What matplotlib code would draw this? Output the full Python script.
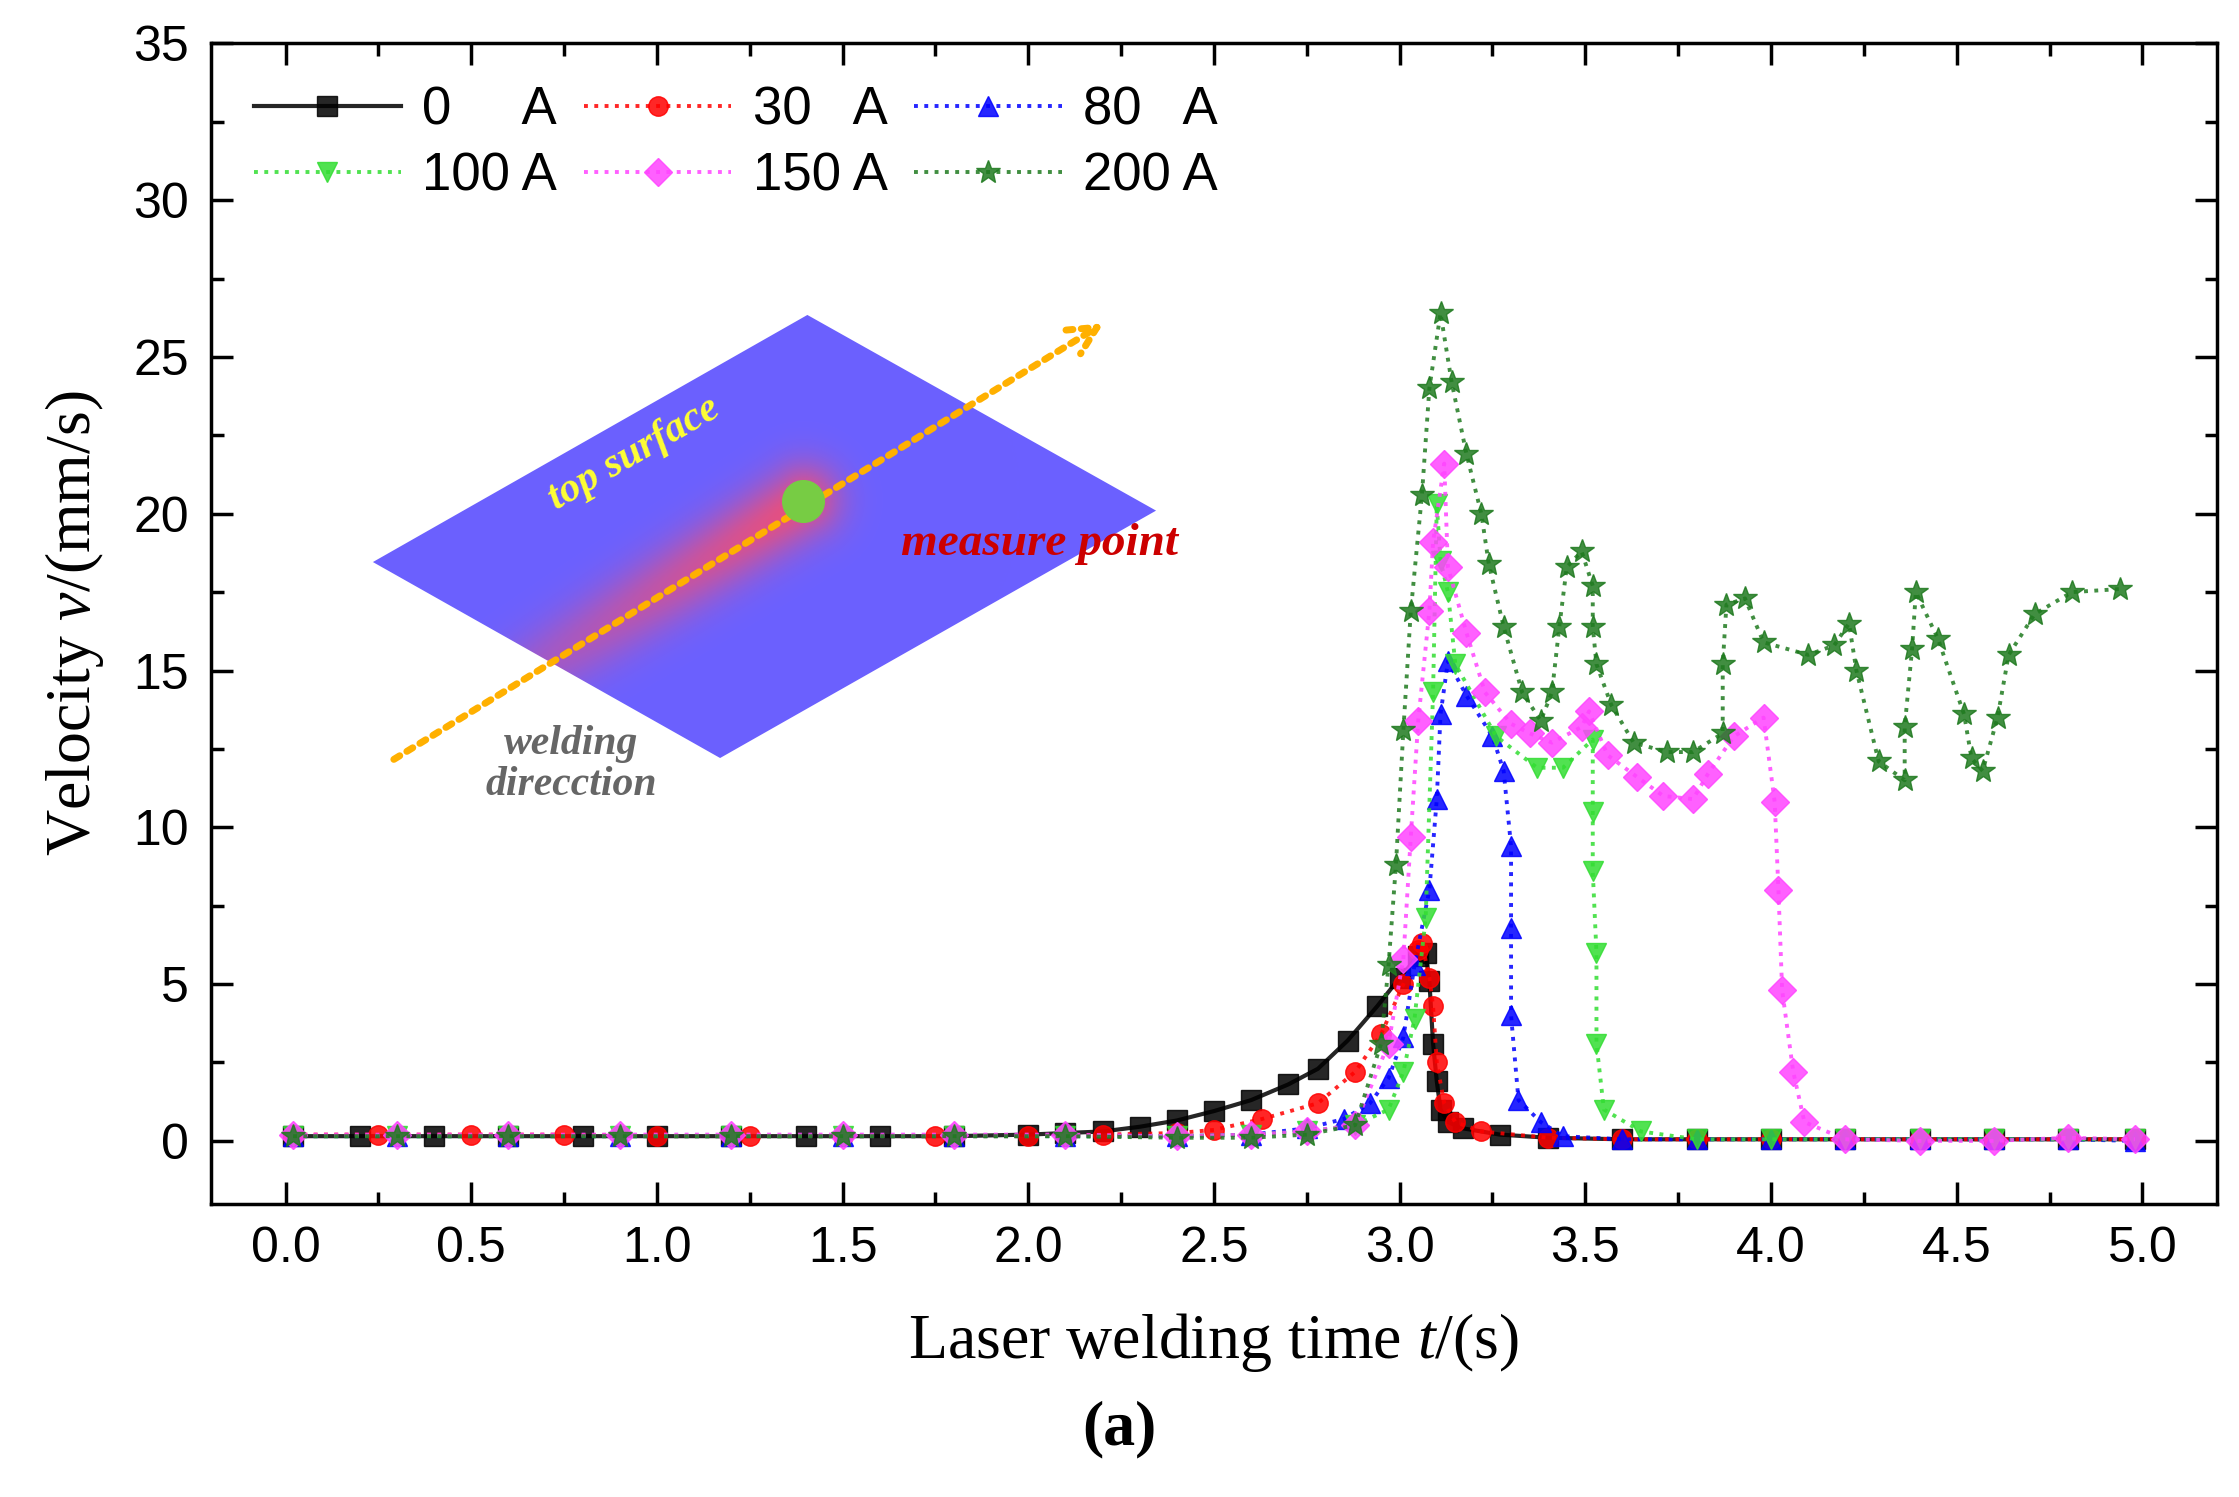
import numpy as np
import matplotlib
matplotlib.use('Agg')
import matplotlib.pyplot as plt
from matplotlib.path import Path
from matplotlib.patches import PathPatch
from matplotlib.ticker import MultipleLocator

plt.rcParams['font.family'] = 'Liberation Sans'
plt.rcParams['mathtext.fontset'] = 'custom'
plt.rcParams['mathtext.it'] = 'Liberation Serif:italic'
plt.rcParams['mathtext.rm'] = 'Liberation Serif'

# ---- data ----
t_0A = [0.02, 0.2, 0.4, 0.6, 0.8, 1.0, 1.2, 1.4, 1.6, 1.8, 2.0, 2.1, 2.2, 2.3, 2.4, 2.5, 2.6, 2.7,
        2.78, 2.86, 2.94, 3.0, 3.05, 3.07, 3.08, 3.09, 3.10, 3.11, 3.13, 3.17, 3.27, 3.4, 3.6, 3.8,
        4.0, 4.2, 4.4, 4.6, 4.8, 4.98]
v_0A = [0.15, 0.15, 0.15, 0.15, 0.15, 0.15, 0.15, 0.15, 0.15, 0.15, 0.2, 0.25, 0.3, 0.45, 0.65, 0.95,
        1.3, 1.8, 2.3, 3.2, 4.3, 5.2, 5.9, 6.0, 5.1, 3.1, 1.9, 1.0, 0.6, 0.4, 0.2, 0.1, 0.05, 0.05,
        0.05, 0.05, 0.05, 0.05, 0.05, 0.05]
t_30A = [0.02, 0.25, 0.5, 0.75, 1.0, 1.25, 1.5, 1.75, 2.0, 2.2, 2.4, 2.5, 2.63, 2.78, 2.88, 2.95,
         3.01, 3.05, 3.06, 3.08, 3.09, 3.10, 3.12, 3.15, 3.22, 3.4, 3.6, 3.8, 4.0, 4.2, 4.4, 4.6,
         4.8, 4.98]
v_30A = [0.2, 0.2, 0.2, 0.2, 0.15, 0.15, 0.15, 0.15, 0.15, 0.2, 0.25, 0.35, 0.7, 1.2, 2.2, 3.4,
         5.0, 6.1, 6.3, 5.2, 4.3, 2.5, 1.2, 0.6, 0.3, 0.1, 0.05, 0.05, 0.05, 0.05, 0.05, 0.05,
         0.05, 0.05]
t_80A = [0.02, 0.3, 0.6, 0.9, 1.2, 1.5, 1.8, 2.1, 2.4, 2.6, 2.75, 2.85, 2.92, 2.97, 3.01, 3.04,
         3.08, 3.10, 3.11, 3.13, 3.18, 3.25, 3.28, 3.30, 3.30, 3.30, 3.32, 3.38, 3.44, 3.6, 3.8,
         4.0, 4.2, 4.4, 4.6, 4.8, 4.98]
v_80A = [0.15, 0.15, 0.15, 0.15, 0.15, 0.15, 0.15, 0.15, 0.15, 0.2, 0.4, 0.7, 1.2, 2.0, 3.3, 5.6,
         8.0, 10.9, 13.6, 15.3, 14.2, 12.9, 11.8, 9.4, 6.8, 4.0, 1.3, 0.6, 0.15, 0.05, 0.05, 0.05,
         0.05, 0.05, 0.05, 0.05, 0.0]
t_100A = [0.02, 0.3, 0.6, 0.9, 1.2, 1.5, 1.8, 2.1, 2.4, 2.6, 2.75, 2.88, 2.97, 3.01, 3.04, 3.07,
          3.09, 3.10, 3.11, 3.13, 3.15, 3.26, 3.37, 3.44, 3.52, 3.52, 3.52, 3.53, 3.53, 3.55, 3.65,
          3.8, 4.0, 4.2, 4.4, 4.6, 4.8, 4.98]
v_100A = [0.15, 0.15, 0.15, 0.15, 0.15, 0.15, 0.15, 0.15, 0.15, 0.2, 0.3, 0.5, 1.0, 2.2, 3.9, 7.1,
          14.3, 20.3, 18.5, 17.5, 15.2, 12.9, 11.9, 11.9, 12.8, 10.5, 8.6, 6.0, 3.1, 1.0, 0.3,
          0.05, 0.05, 0.05, 0.05, 0.05, 0.05, 0.05]
t_150A = [0.02, 0.3, 0.6, 0.9, 1.2, 1.5, 1.8, 2.1, 2.4, 2.6, 2.75, 2.88, 2.97, 3.01, 3.03, 3.05,
          3.08, 3.09, 3.12, 3.13, 3.18, 3.23, 3.30, 3.35, 3.41, 3.49, 3.51, 3.56, 3.64, 3.71, 3.79,
          3.83, 3.90, 3.98, 4.01, 4.02, 4.03, 4.06, 4.09, 4.2, 4.4, 4.6, 4.8, 4.98]
v_150A = [0.2, 0.2, 0.2, 0.2, 0.2, 0.2, 0.2, 0.2, 0.15, 0.2, 0.3, 0.5, 3.1, 5.8, 9.7, 13.4, 16.9,
          19.1, 21.6, 18.3, 16.2, 14.3, 13.3, 13.0, 12.7, 13.2, 13.7, 12.3, 11.6, 11.0, 10.9, 11.7,
          12.9, 13.5, 10.8, 8.0, 4.8, 2.2, 0.6, 0.05, 0.0, 0.0, 0.1, 0.05]
t_200A = [0.02, 0.3, 0.6, 0.9, 1.2, 1.5, 1.8, 2.1, 2.4, 2.6, 2.75, 2.88, 2.95, 2.97, 2.99, 3.01,
          3.03, 3.06, 3.08, 3.11, 3.14, 3.18, 3.22, 3.24, 3.28, 3.33, 3.38, 3.41, 3.43, 3.45, 3.49,
          3.52, 3.52, 3.53, 3.57, 3.63, 3.72, 3.79, 3.87, 3.87, 3.88, 3.93, 3.98, 4.10, 4.17, 4.21,
          4.23, 4.29, 4.36, 4.36, 4.38, 4.39, 4.45, 4.52, 4.54, 4.57, 4.61, 4.64, 4.71, 4.81, 4.94]
v_200A = [0.15, 0.15, 0.15, 0.15, 0.15, 0.15, 0.15, 0.15, 0.1, 0.1, 0.2, 0.5, 3.1, 5.6, 8.8, 13.1,
          16.9, 20.6, 24.0, 26.4, 24.2, 21.9, 20.0, 18.4, 16.4, 14.3, 13.4, 14.3, 16.4, 18.3, 18.8,
          17.7, 16.4, 15.2, 13.9, 12.7, 12.4, 12.4, 13.0, 15.2, 17.1, 17.3, 15.9, 15.5, 15.8, 16.5,
          15.0, 12.1, 11.5, 13.2, 15.7, 17.5, 16.0, 13.6, 12.2, 11.8, 13.5, 15.5, 16.8, 17.5, 17.6]

labels = ['0     A', '30   A', '80   A', '100 A', '150 A', '200 A']
series = [(t_0A, v_0A), (t_30A, v_30A), (t_80A, v_80A),
          (t_100A, v_100A), (t_150A, v_150A), (t_200A, v_200A)]
colors = ['black', 'red', 'blue', '#33dd33', '#ff44ff', '#1f7a1f']
markers = ['s', 'o', '^', 'v', 'D', '*']
styles = ['-', ':', ':', ':', ':', ':']

fig = plt.figure(figsize=(22.39, 14.97), dpi=100)
ax = fig.add_axes([0.0944, 0.196, 0.8956, 0.775])

XMIN, XMAX, YMIN, YMAX = -0.2, 5.2, -2, 35

# ---- inset sketch: plate, weld glow, arrow ----
def to_px(t, v):
    return (201 + t * 259.8, 798 - v * 21.94)

gx = np.linspace(0.1, 2.5, 500)
gy = np.linspace(11, 27.5, 400)
GX, GY = np.meshgrid(gx, gy)
PX, PY = to_px(GX, GY)
a = np.array(to_px(0.285, 12.12)); b = np.array(to_px(1.393, 20.42))
d = b - a
s = np.clip(((PX - a[0]) * d[0] + (PY - a[1]) * d[1]) / (d @ d), 0, 1)
dist = np.hypot(PX - (a[0] + s * d[0]), PY - (a[1] + s * d[1]))
glow = 0.85 * np.exp(-(dist / 25.0) ** 2) * np.clip(0.1 + 0.9 * s, 0, 1)
blue = np.array([0.42, 0.38, 1.0]); red = np.array([1.0, 0.3, 0.4])
img = blue[None, None, :] * (1 - glow[..., None]) + red[None, None, :] * glow[..., None]
im = ax.imshow(img, extent=[gx[0], gx[-1], gy[0], gy[-1]], origin='lower',
               aspect='auto', zorder=1, interpolation='bilinear')
plate = [(0.235, 18.46), (1.405, 26.34), (2.344, 20.1), (1.170, 12.21), (0.235, 18.46)]
clip = PathPatch(Path(plate), transform=ax.transData, facecolor='none', edgecolor='none')
ax.add_patch(clip)
im.set_clip_path(clip)
ax.annotate('', xy=(2.209, 26.12), xytext=(0.285, 12.12), zorder=3,
            arrowprops=dict(arrowstyle='->', color='#ffb000', lw=5, ls=(0, (1, 1.2)),
                            mutation_scale=50))
ax.plot([1.393], [20.42], 'o', color='#77cc44', ms=30, zorder=4)
ax.text(0.94, 21.9, 'top surface', rotation=30, color='#ffff33', fontsize=30,
        family='Liberation Serif', style='italic', weight='bold', ha='center', va='center', zorder=4)
ax.text(2.03, 19.05, 'measure point', color='#cc0000', fontsize=34,
        family='Liberation Serif', style='italic', weight='bold', ha='center', va='center', zorder=4)
ax.text(0.77, 12.0, 'welding\ndirecction', color='#666666', fontsize=30, linespacing=1.1,
        family='Liberation Serif', style='italic', weight='bold', ha='center', va='center', zorder=4)

# ---- data series ----
handles = []
for (t, v), lab, c, m, ls in zip(series, labels, colors, markers, styles):
    h, = ax.plot(t, v, ls=ls, color=c, lw=3 if ls == '-' else 2.8, marker=m,
                 ms=14 if m != '*' else 18, mfc=c, mec=c, alpha=0.85, label=lab, zorder=5)
    handles.append(h)

ax.set_xlim(XMIN, XMAX)
ax.set_ylim(YMIN, YMAX)
ax.xaxis.set_major_locator(MultipleLocator(0.5))
ax.xaxis.set_minor_locator(MultipleLocator(0.25))
ax.yaxis.set_major_locator(MultipleLocator(5))
ax.yaxis.set_minor_locator(MultipleLocator(2.5))
ax.tick_params(which='both', direction='in', top=True, right=True, width=2.5)
ax.tick_params(which='major', length=16, labelsize=36, pad=16)
ax.tick_params(which='minor', length=9)
for sp in ax.spines.values():
    sp.set_linewidth(2.5)
ax.set_xlabel('Laser welding time $\\it{t}$/(s)', family='Liberation Serif', fontsize=46, labelpad=28)
ax.set_ylabel('Velocity $\\it{v}$/(mm/s)', family='Liberation Serif', fontsize=46, labelpad=20)
order = [0, 3, 1, 4, 2, 5]
ax.legend([handles[i] for i in order], [labels[i] for i in order], loc='upper left', ncol=3,
          fontsize=38, frameon=False, handlelength=2.8, columnspacing=0.5, handletextpad=0.4,
          labelspacing=0.3, borderaxespad=0.4)
fig.text(0.5, 0.035, '(a)', family='Liberation Serif', weight='bold', fontsize=46, ha='center')

fig.savefig('out.png', dpi=100)
